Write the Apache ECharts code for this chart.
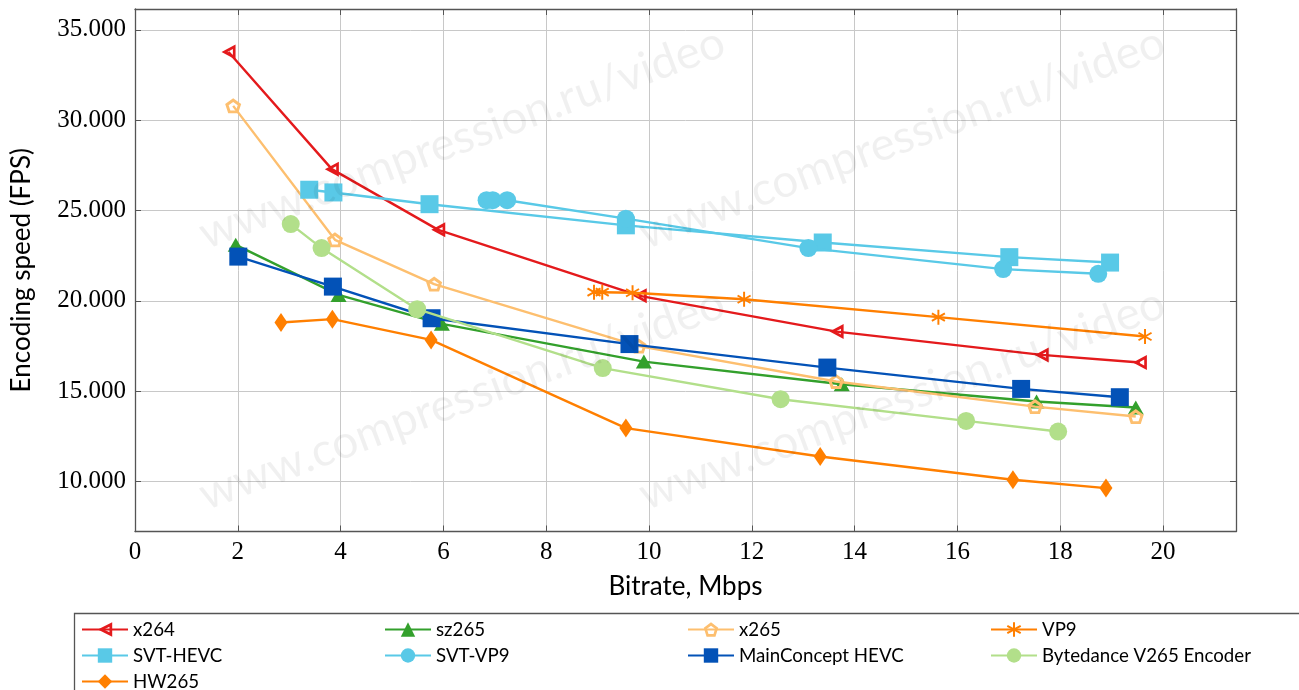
<!DOCTYPE html>
<html>
<head>
<meta charset="utf-8">
<script src="https://cdn.jsdelivr.net/npm/echarts@6/dist/echarts.min.js"></script>
<style>
html,body{margin:0;padding:0;background:#fff;}
#chart{width:1299px;height:690px;}
</style>
</head>
<body>
<div id="chart"></div>
<script>
// ---- data ----
const seriesNames = ['x264','sz265','x265','VP9','SVT-HEVC','SVT-VP9','MainConcept HEVC','Bytedance V265 Encoder','HW265'];

const x264X = [1.82, 3.83, 5.90, 9.82, 13.65, 17.64, 19.55];
const x264Y = [33.77, 27.29, 23.93, 20.28, 18.30, 17.01, 16.59];

const sz265X = [1.96, 3.96, 5.97, 9.90, 13.75, 17.54, 19.47];
const sz265Y = [23.10, 20.33, 18.73, 16.64, 15.39, 14.43, 14.10];

const x265X = [1.91, 3.89, 5.82, 9.80, 13.64, 17.51, 19.47];
const x265Y = [30.79, 23.38, 20.93, 17.50, 15.54, 14.15, 13.60];

const vp9X = [8.93, 9.09, 9.68, 11.85, 15.63, 19.65];
const vp9Y = [20.48, 20.48, 20.45, 20.09, 19.10, 18.03];

const svtHevcX = [3.39, 3.86, 5.73, 9.55, 13.38, 17.01, 18.97];
const svtHevcY = [26.15, 26.00, 25.35, 24.18, 23.23, 22.42, 22.12];

const svtVp9X = [6.84, 6.96, 7.24, 9.55, 13.10, 16.89, 18.74];
const svtVp9Y = [25.57, 25.57, 25.57, 24.55, 22.92, 21.76, 21.50];

const mainConceptX = [2.01, 3.85, 5.77, 9.62, 13.47, 17.24, 19.16];
const mainConceptY = [22.45, 20.79, 19.04, 17.61, 16.31, 15.13, 14.67];

const bytedanceX = [3.03, 3.63, 5.49, 9.10, 12.56, 16.17, 17.96];
const bytedanceY = [24.25, 22.92, 19.54, 16.28, 14.56, 13.36, 12.77];

const hw265X = [2.84, 3.84, 5.76, 9.55, 13.33, 17.08, 18.89];
const hw265Y = [18.80, 18.99, 17.84, 12.96, 11.39, 10.10, 9.64];

const xTicks = [0, 2, 4, 6, 8, 10, 12, 14, 16, 18, 20];
const yTicks = [10, 15, 20, 25, 30, 35];

const xTitle = 'Bitrate, Mbps';
const yTitle = 'Encoding speed (FPS)';
const watermark = 'www.compression.ru/video';

// ---- styling ----
const colors = {
  'x264': '#e41a1c',
  'sz265': '#33a02c',
  'x265': '#fdbf6f',
  'VP9': '#ff7f00',
  'SVT-HEVC': '#59c9e7',
  'SVT-VP9': '#59c9e7',
  'MainConcept HEVC': '#0352b7',
  'Bytedance V265 Encoder': '#b2df8a',
  'HW265': '#ff7f00'
};

const triLeftRing = 'path://M0,5L10,0L10,10Z M4.25,5L8.1,6.93L8.1,3.07Z';
const pentRing = 'path://M10,0L19.51,6.91L15.88,18.09L4.12,18.09L0.49,6.91Z M10,4.33L4.61,8.25L6.67,14.59L13.33,14.59L15.39,8.25Z';
const asterisk = 'path://M8.7,0L11.3,0L11.3,20L8.7,20Z M0.69,6.13L1.99,3.87L19.31,13.87L18.01,16.13Z M1.99,16.13L0.69,13.87L18.01,3.87L19.31,6.13Z';

const markers = {
  'x264': {symbol: triLeftRing, size: [14, 15]},
  'sz265': {symbol: 'triangle', size: [16, 14]},
  'x265': {symbol: pentRing, size: [16, 15]},
  'VP9': {symbol: asterisk, size: [14, 15]},
  'SVT-HEVC': {symbol: 'rect', size: 18},
  'SVT-VP9': {symbol: 'circle', size: 18},
  'MainConcept HEVC': {symbol: 'rect', size: 18},
  'Bytedance V265 Encoder': {symbol: 'circle', size: 18},
  'HW265': {symbol: 'diamond', size: [13, 19]}
};

const xs = [x264X, sz265X, x265X, vp9X, svtHevcX, svtVp9X, mainConceptX, bytedanceX, hw265X];
const ys = [x264Y, sz265Y, x265Y, vp9Y, svtHevcY, svtVp9Y, mainConceptY, bytedanceY, hw265Y];

const series = seriesNames.map((name, i) => ({
  name: name,
  type: 'line',
  xAxisIndex: 0,
  yAxisIndex: 0,
  data: xs[i].map((x, j) => [x, ys[i][j]]),
  symbol: markers[name].symbol,
  symbolSize: markers[name].size,
  showAllSymbol: true,
  lineStyle: {color: colors[name], width: 2.4},
  itemStyle: {color: colors[name], opacity: 1},
  emphasis: {disabled: true},
  animation: false,
  z: 2 + i * 0.01
}));

const font = 'Lato';
const serif = 'Liberation Serif';

const legendCols = [
  {left: 81, data: ['x264', 'SVT-HEVC', 'HW265']},
  {left: 384, data: ['sz265', 'SVT-VP9']},
  {left: 687, data: ['x265', 'MainConcept HEVC']},
  {left: 990, data: ['VP9', 'Bytedance V265 Encoder']}
];

const legends = legendCols.map(c => ({
  data: c.data,
  left: c.left,
  top: 620,
  height: 120,
  orient: 'vertical',
  padding: 0,
  itemGap: 7,
  itemWidth: 46,
  itemHeight: 18,
  selectedMode: false,
  textStyle: {fontFamily: font, fontSize: 18.7, color: '#000'}
}));

const wmPos = [[462, 138], [902, 138], [462, 399], [902, 399]];
const graphics = [
  {type: 'rect', left: 72, top: 611, z: 0, silent: true,
   shape: {width: 1300, height: 120},
   style: {fill: 'none', stroke: '#555', lineWidth: 1.3}}
].concat(wmPos.map(p => ({
  type: 'text', x: p[0], y: p[1], rotation: 20.5 * Math.PI / 180, z: 100, silent: true,
  style: {text: watermark, fontFamily: font, fontSize: 46, fill: 'rgba(0,0,0,0.06)',
          align: 'center', verticalAlign: 'middle'}
})));

const axisLineStyle = {show: true, onZero: false, lineStyle: {color: '#555', width: 1.3}};

const option = {
  backgroundColor: '#fff',
  animation: false,
  grid: {left: 135, right: 63, top: 9, bottom: 158.5, containLabel: false},
  xAxis: [{
    type: 'value', min: 0, max: 21.42, position: 'bottom',
    name: xTitle, nameLocation: 'middle', nameGap: 42,
    nameTextStyle: {fontFamily: font, fontSize: 26, color: '#000'},
    axisLine: axisLineStyle,
    axisTick: {show: true, inside: true, length: 6, customValues: xTicks, lineStyle: {color: '#555'}},
    axisLabel: {customValues: xTicks, fontFamily: serif, fontSize: 25, color: '#000', margin: 8},
    splitLine: {show: true, lineStyle: {color: '#c8c8c8', width: 1}}
  }, {
    type: 'value', min: 0, max: 21.42, position: 'top',
    axisLine: axisLineStyle,
    axisTick: {show: true, inside: true, length: 6, customValues: xTicks, lineStyle: {color: '#555'}},
    axisLabel: {show: false},
    splitLine: {show: false}
  }],
  yAxis: [{
    type: 'value', min: 7.24, max: 36.15, position: 'left',
    name: yTitle, nameLocation: 'middle', nameGap: 100,
    nameTextStyle: {fontFamily: font, fontSize: 26, color: '#000'},
    axisLine: axisLineStyle,
    axisTick: {show: true, inside: true, length: 6, customValues: yTicks, lineStyle: {color: '#555'}},
    axisLabel: {customValues: yTicks, fontFamily: serif, fontSize: 25, color: '#000', margin: 9,
                formatter: v => v.toFixed(3)},
    splitLine: {show: true, lineStyle: {color: '#c8c8c8', width: 1}}
  }, {
    type: 'value', min: 7.24, max: 36.15, position: 'right',
    axisLine: axisLineStyle,
    axisTick: {show: true, inside: true, length: 6, customValues: yTicks, lineStyle: {color: '#555'}},
    axisLabel: {show: false},
    splitLine: {show: false}
  }],
  legend: legends,
  graphic: graphics,
  series: series
};

const chart = echarts.init(document.getElementById('chart'), null, {renderer: 'canvas'});
chart.setOption(option);
</script>
</body>
</html>
